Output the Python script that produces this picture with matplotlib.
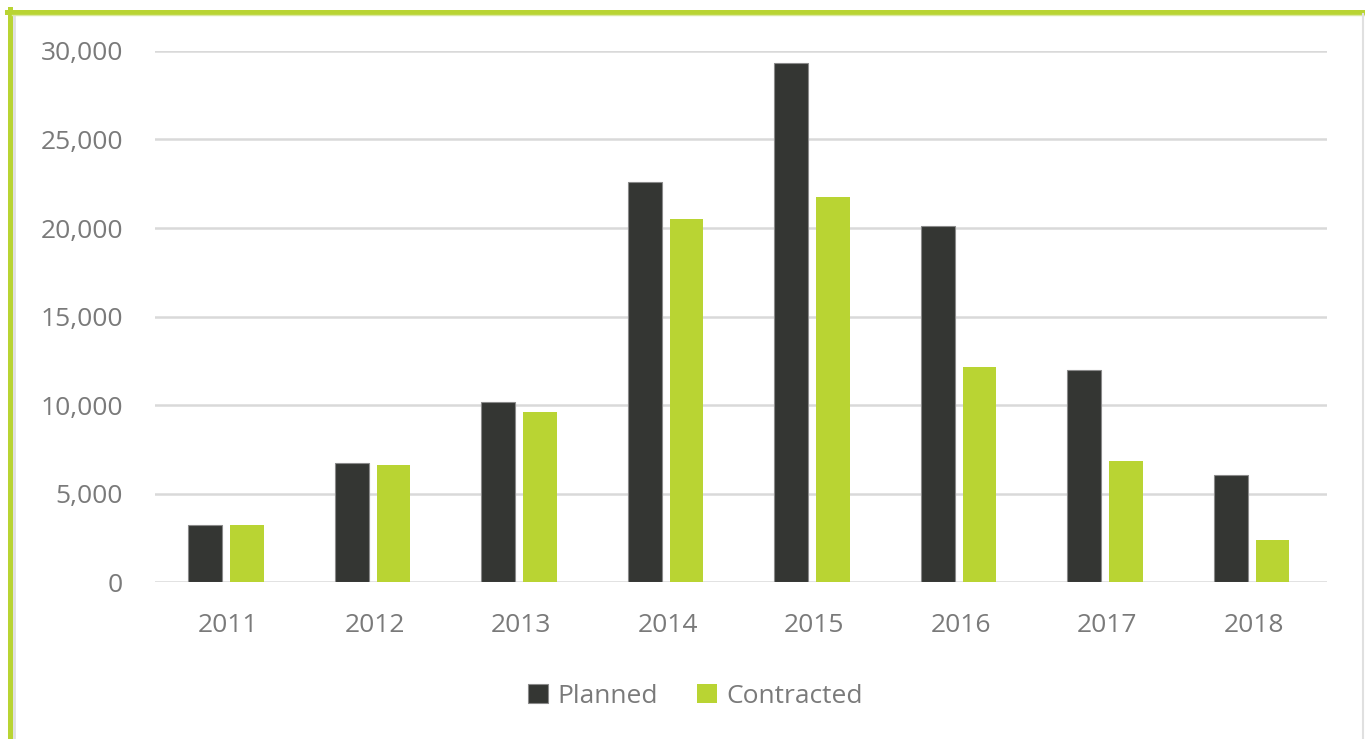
import matplotlib.pyplot as plt
from matplotlib.lines import Line2D
from matplotlib.ticker import FuncFormatter
import numpy as np

years = ["2011", "2012", "2013", "2014", "2015", "2016", "2017", "2018"]
planned = [3220, 6750, 10170, 22600, 29320, 20110, 11980, 6050]
contracted = [3220, 6620, 9600, 20520, 21750, 12150, 6850, 2380]

dark = "#343633"
green = "#b9d433"
text_gray = "#7a7a7a"

plt.rcParams["font.family"] = ["Open Sans", "DejaVu Sans"]

fig = plt.figure(figsize=(13.65, 7.39), dpi=100)
ax = fig.add_axes([0.1136, 0.2124, 0.8586, 0.7186])

x = np.arange(len(years))
w = 0.23
gap = 0.055
ax.bar(x - (w + gap) / 2 - 0.015, planned, w, color=dark, edgecolor="#8a8a8a",
       linewidth=0.8, label="Planned", zorder=3)
ax.bar(x + (w + gap) / 2 - 0.015, contracted, w, color=green, label="Contracted", zorder=3)

ax.set_xlim(-0.5, len(years) - 0.5)
ax.set_ylim(0, 30000)
ax.set_yticks(range(0, 30001, 5000))
ax.yaxis.set_major_formatter(FuncFormatter(lambda v, p: f"{int(v):,}"))
ax.set_xticks(x)
ax.set_xticklabels(years)
ax.grid(axis="y", color="#d9d9d9", linewidth=1.8, zorder=0)
ax.set_axisbelow(True)
for s in ax.spines.values():
    s.set_visible(False)
ax.tick_params(length=0, colors=text_gray, labelsize=19)
ax.tick_params(axis="y", pad=23)
ax.tick_params(axis="x", pad=22)

leg = ax.legend(loc="center", bbox_to_anchor=(0.461, -0.215), ncol=2, frameon=False,
                fontsize=19, handlelength=0.75, handleheight=0.75,
                handletextpad=0.35, columnspacing=1.5)
for t in leg.get_texts():
    t.set_color(text_gray)

# frame around the figure
H = 739.0
Wd = 1365.0
fig.add_artist(Line2D([9.5 / Wd, 9.5 / Wd], [0, 1 - 9 / H], color=green,
                      linewidth=3.6, transform=fig.transFigure))
fig.add_artist(Line2D([13.5 / Wd, 13.5 / Wd], [0, 1 - 14 / H], color="#e0e0e0",
                      linewidth=2.0, transform=fig.transFigure))
fig.add_artist(Line2D([7 / Wd, 1], [1 - 11.5 / H, 1 - 11.5 / H], color=green,
                      linewidth=3.6, transform=fig.transFigure))
fig.add_artist(Line2D([12 / Wd, 1], [1 - 14.5 / H, 1 - 14.5 / H], color="#dbe8a0",
                      linewidth=1.0, transform=fig.transFigure))
fig.add_artist(Line2D([1363 / Wd, 1363 / Wd], [0, 1 - 14 / H], color="#e0e0e0",
                      linewidth=1.5, transform=fig.transFigure))

fig.savefig("out.png", dpi=100)
